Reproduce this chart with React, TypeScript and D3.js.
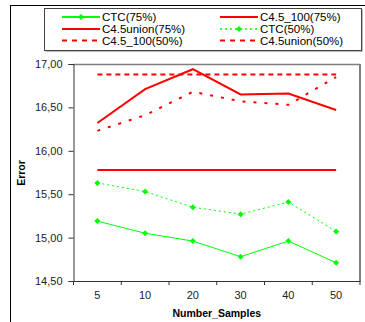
import { useEffect, useRef } from 'react';
import * as d3 from 'd3';

const categories = ['5', '10', '20', '30', '40', '50'];
const yTicks = [14.5, 15, 15.5, 16, 16.5, 17];

const ctc75 = [15.19, 15.05, 14.96, 14.78, 14.96, 14.71];
const ctc50 = [15.63, 15.53, 15.35, 15.27, 15.41, 15.07];
const c45union75 = [15.78, 15.78, 15.78, 15.78, 15.78, 15.78];
const c45_100_75 = [16.32, 16.71, 16.94, 16.65, 16.66, 16.47];
const c45_100_50 = [16.23, 16.41, 16.68, 16.57, 16.53, 16.85];
const c45union50 = [16.88, 16.88, 16.88, 16.88, 16.88, 16.88];

interface Series {
  name: string;
  values: number[];
  color: string;
  width: number;
  dash: string | null;
  legendDash: string | null;
  marker: boolean;
}

const series: Series[] = [
  { name: 'CTC(75%)', values: ctc75, color: '#00ff00', width: 1, dash: null, legendDash: null, marker: true },
  { name: 'C4.5_100(75%)', values: c45_100_75, color: '#ff0000', width: 2, dash: null, legendDash: null, marker: false },
  { name: 'C4.5union(75%)', values: c45union75, color: '#ff0000', width: 2, dash: null, legendDash: null, marker: false },
  { name: 'CTC(50%)', values: ctc50, color: '#00ff00', width: 1, dash: '2,3', legendDash: '2,3', marker: true },
  { name: 'C4.5_100(50%)', values: c45_100_50, color: '#ff0000', width: 2, dash: '3,8', legendDash: '5,5', marker: false },
  { name: 'C4.5union(50%)', values: c45union50, color: '#ff0000', width: 2, dash: '5,4', legendDash: '5,5', marker: false },
];

export default function App() {
  const svgRef = useRef<SVGSVGElement>(null);

  useEffect(() => {
    if (!svgRef.current) return;
    const W = 365;
    const H = 322;
    const font = '"Liberation Sans", Arial, sans-serif';
    const left = 73.5;
    const right = 360;
    const top = 64;
    const bottom = 281;

    const svg = d3.select(svgRef.current);
    svg.selectAll('*').remove();
    svg.attr('width', W).attr('height', H);

    svg.append('rect').attr('width', W).attr('height', H).attr('fill', '#fff');

    // outer frame
    svg.append('line').attr('x1', 10.5).attr('x2', 10.5).attr('y1', 5).attr('y2', H).attr('stroke', '#000');
    svg.append('line').attr('x1', 10).attr('x2', W).attr('y1', 5.5).attr('y2', 5.5).attr('stroke', '#000');

    const x = d3.scaleBand<string>().domain(categories).range([left, right]).padding(0);
    const y = d3.scaleLinear().domain([14.5, 17]).range([bottom, top]);
    const cx = (c: string) => (x(c) || 0) + x.bandwidth() / 2;

    // plot area border (gray)
    svg.append('line').attr('x1', left).attr('x2', right).attr('y1', top + 0.5).attr('y2', top + 0.5)
      .attr('stroke', '#808080').attr('stroke-width', 1.5);
    svg.append('line').attr('x1', right).attr('x2', right).attr('y1', top).attr('y2', bottom)
      .attr('stroke', '#808080').attr('stroke-width', 2);

    // y axis
    const yAxis = svg.append('g').attr('transform', `translate(${left},0)`)
      .call(d3.axisLeft(y).tickValues(yTicks).tickSize(5).tickPadding(6)
        .tickFormat((d) => (d as number).toFixed(2).replace('.', ',')));
    yAxis.select('.domain').attr('stroke', '#333');
    yAxis.selectAll('line').attr('stroke', '#333');
    yAxis.selectAll('text').style('font-family', font).style('font-size', '11px').attr('fill', '#222');

    // x axis
    const xAxis = svg.append('g').attr('transform', `translate(0,${bottom})`)
      .call(d3.axisBottom(x).tickSize(0).tickPadding(10).tickSizeOuter(0));
    xAxis.select('.domain').attr('stroke', '#333');
    xAxis.selectAll('text').style('font-family', font).style('font-size', '11px').attr('fill', '#222');
    const bounds = categories.map((c) => x(c) || 0).concat([right]);
    svg.append('g').selectAll('line').data(bounds).enter().append('line')
      .attr('x1', (d) => d).attr('x2', (d) => d).attr('y1', bottom).attr('y2', bottom + 4)
      .attr('stroke', '#333');

    // axis titles
    svg.append('text').attr('x', (left + right) / 2).attr('y', 317).attr('text-anchor', 'middle')
      .style('font-family', font).style('font-size', '10.5px').style('font-weight', 'bold').text('Number_Samples');
    svg.append('text').attr('transform', `translate(25,173) rotate(-90)`).attr('text-anchor', 'middle')
      .style('font-family', font).style('font-size', '10.5px').style('font-weight', 'bold').text('Error');

    // lines
    const line = d3.line<number>().x((_, i) => cx(categories[i])).y((d) => y(d));
    const diamond = d3.symbol().type(d3.symbolSquare).size(18);
    const drawOrder = [2, 5, 4, 1, 3, 0];
    drawOrder.forEach((idx) => {
      const s = series[idx];
      svg.append('path').attr('d', line(s.values)).attr('fill', 'none')
        .attr('stroke', s.color).attr('stroke-width', s.width)
        .attr('stroke-dasharray', s.dash);
      if (s.marker) {
        svg.append('g').selectAll('path').data(s.values).enter().append('path')
          .attr('d', diamond())
          .attr('transform', (d, i) => `translate(${cx(categories[i])},${y(d)}) rotate(45)`)
          .attr('fill', s.color);
      }
    });

    // legend
    svg.append('rect').attr('x', 45.5).attr('y', 9.5).attr('width', 317).attr('height', 42)
      .attr('fill', '#777');
    svg.append('rect').attr('x', 44.5).attr('y', 8.5).attr('width', 317).attr('height', 42)
      .attr('fill', '#fff').attr('stroke', '#444');
    const rowY = [17, 29, 40.5];
    const colX = [62, 220];
    series.forEach((s, i) => {
      const col = i % 2;
      const row = Math.floor(i / 2);
      const lx = colX[col];
      const ly = rowY[row];
      svg.append('line').attr('x1', lx).attr('x2', lx + 38).attr('y1', ly).attr('y2', ly)
        .attr('stroke', s.color).attr('stroke-width', s.marker && !s.dash ? 2 : s.width + (s.marker ? 0.5 : 0))
        .attr('stroke-dasharray', s.legendDash);
      if (s.marker) {
        svg.append('path').attr('d', diamond()).attr('transform', `translate(${lx + 19},${ly}) rotate(45)`)
          .attr('fill', s.color);
      }
      svg.append('text').attr('x', lx + 40).attr('y', ly + 4)
        .style('font-family', font).style('font-size', '11.5px').text(s.name);
    });
  }, []);

  return (
    <div style={{ position: 'absolute', left: 0, top: 0 }}>
      <svg ref={svgRef} style={{ display: 'block' }} />
    </div>
  );
}
